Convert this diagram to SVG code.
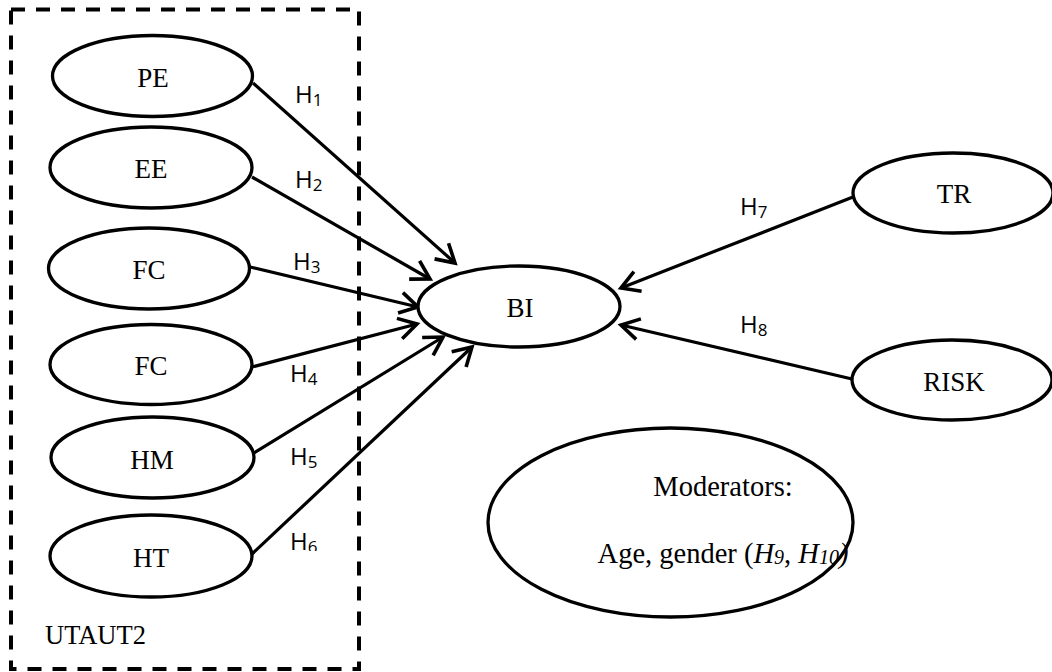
<svg xmlns="http://www.w3.org/2000/svg" width="1052" height="672" viewBox="0 0 1052 672">
  <style>
    .node { fill: #ffffff; stroke: #000000; stroke-width: 3.3; }
    .label { font-family: "Liberation Serif", "Times New Roman", serif; font-size: 27px; fill: #000000; text-anchor: middle; }
    .mod { font-family: "Liberation Serif", "Times New Roman", serif; font-size: 28.5px; fill: #000000; text-anchor: middle; }
    .hyp { font-family: "Open Sans", "Liberation Sans", sans-serif; font-size: 24px; fill: #000000; }
    .sub { font-size: 17px; }
    .edge { fill: none; stroke: #000000; stroke-width: 3.2; marker-end: url(#open-arrow); }
    .frame { fill: none; stroke: #000000; stroke-width: 4; stroke-dasharray: 14 11; }
  </style>
  <defs>
    <marker id="open-arrow" markerUnits="userSpaceOnUse" markerWidth="30" markerHeight="30" refX="0" refY="0" viewBox="-24 -15 30 30" orient="auto" overflow="visible">
      <path d="M -18 -10.5 L 0 0 L -18 10.5" fill="none" stroke="#000000" stroke-width="3.6" stroke-linejoin="miter" stroke-linecap="butt"/>
    </marker>
    <clipPath id="h6-clip">
      <rect x="280" y="520" width="60" height="31"/>
    </clipPath>
  </defs>

  <rect width="1052" height="672" fill="#ffffff"/>

  <!-- UTAUT2 boundary -->
  <g id="utaut2-frame">
    <rect class="frame" x="11" y="9.5" width="348" height="659.5"/>
    <text class="label" x="45" y="644" style="text-anchor: start; font-size: 26.5px;">UTAUT2</text>
  </g>

  <!-- connectors -->
  <g id="connectors">
    <line class="edge" x1="253" y1="83" x2="455" y2="263"/>
    <line class="edge" x1="252" y1="177" x2="430" y2="279"/>
    <line class="edge" x1="250" y1="267" x2="418" y2="307"/>
    <line class="edge" x1="252" y1="367" x2="417" y2="324"/>
    <line class="edge" x1="254" y1="453" x2="443" y2="337"/>
    <line class="edge" x1="252" y1="554" x2="472" y2="347"/>
    <line class="edge" x1="853" y1="197" x2="621" y2="288"/>
    <line class="edge" x1="852" y1="379" x2="621" y2="325"/>
  </g>

  <!-- hypothesis labels -->
  <g id="hypotheses">
    <text class="hyp" x="295" y="103">H<tspan class="sub" dy="2.5">1</tspan></text>
    <text class="hyp" x="295" y="188">H<tspan class="sub" dy="2.5">2</tspan></text>
    <text class="hyp" x="293" y="270">H<tspan class="sub" dy="2.5">3</tspan></text>
    <text class="hyp" x="290" y="382">H<tspan class="sub" dy="2.5">4</tspan></text>
    <text class="hyp" x="290" y="465">H<tspan class="sub" dy="2.5">5</tspan></text>
    <text class="hyp" x="290" y="550" clip-path="url(#h6-clip)">H<tspan class="sub" dy="2.5">6</tspan></text>
    <text class="hyp" x="740" y="215">H<tspan class="sub" dy="2.5">7</tspan></text>
    <text class="hyp" x="740" y="333">H<tspan class="sub" dy="2.5">8</tspan></text>
  </g>

  <!-- constructs -->
  <g id="node-pe">
    <ellipse class="node" cx="152.5" cy="76" rx="100" ry="40.5"/>
    <text class="label" x="153" y="87">PE</text>
  </g>
  <g id="node-ee">
    <ellipse class="node" cx="151" cy="167.5" rx="101" ry="40.5"/>
    <text class="label" x="151" y="178">EE</text>
  </g>
  <g id="node-fc-1">
    <ellipse class="node" cx="149" cy="268.5" rx="100.5" ry="40.5"/>
    <text class="label" x="149" y="279">FC</text>
  </g>
  <g id="node-fc-2">
    <ellipse class="node" cx="151" cy="364.5" rx="101" ry="40"/>
    <text class="label" x="151" y="375">FC</text>
  </g>
  <g id="node-hm">
    <ellipse class="node" cx="152.5" cy="457.5" rx="101.5" ry="40.5"/>
    <text class="label" x="152" y="469">HM</text>
  </g>
  <g id="node-ht">
    <ellipse class="node" cx="151" cy="556" rx="101" ry="41"/>
    <text class="label" x="151" y="567">HT</text>
  </g>
  <g id="node-bi">
    <ellipse class="node" cx="519" cy="306.5" rx="101" ry="40.5"/>
    <text class="label" x="520" y="317">BI</text>
  </g>
  <g id="node-tr">
    <ellipse class="node" cx="953" cy="193" rx="100" ry="40"/>
    <text class="label" x="954" y="203">TR</text>
  </g>
  <g id="node-risk">
    <ellipse class="node" cx="952" cy="380" rx="100" ry="40"/>
    <text class="label" x="954" y="391">RISK</text>
  </g>
  <g id="node-moderators">
    <ellipse class="node" cx="670.5" cy="522.5" rx="182.5" ry="94.5"/>
    <text class="mod" x="723" y="496">Moderators:</text>
    <text class="mod" x="723" y="563">Age, gender (<tspan font-style="italic">H</tspan><tspan font-style="italic" font-size="20px" dy="1">9</tspan><tspan dy="-1">, </tspan><tspan font-style="italic">H</tspan><tspan font-style="italic" font-size="20px" dy="1">10</tspan><tspan font-style="italic" dy="-1">)</tspan></text>
  </g>
</svg>
